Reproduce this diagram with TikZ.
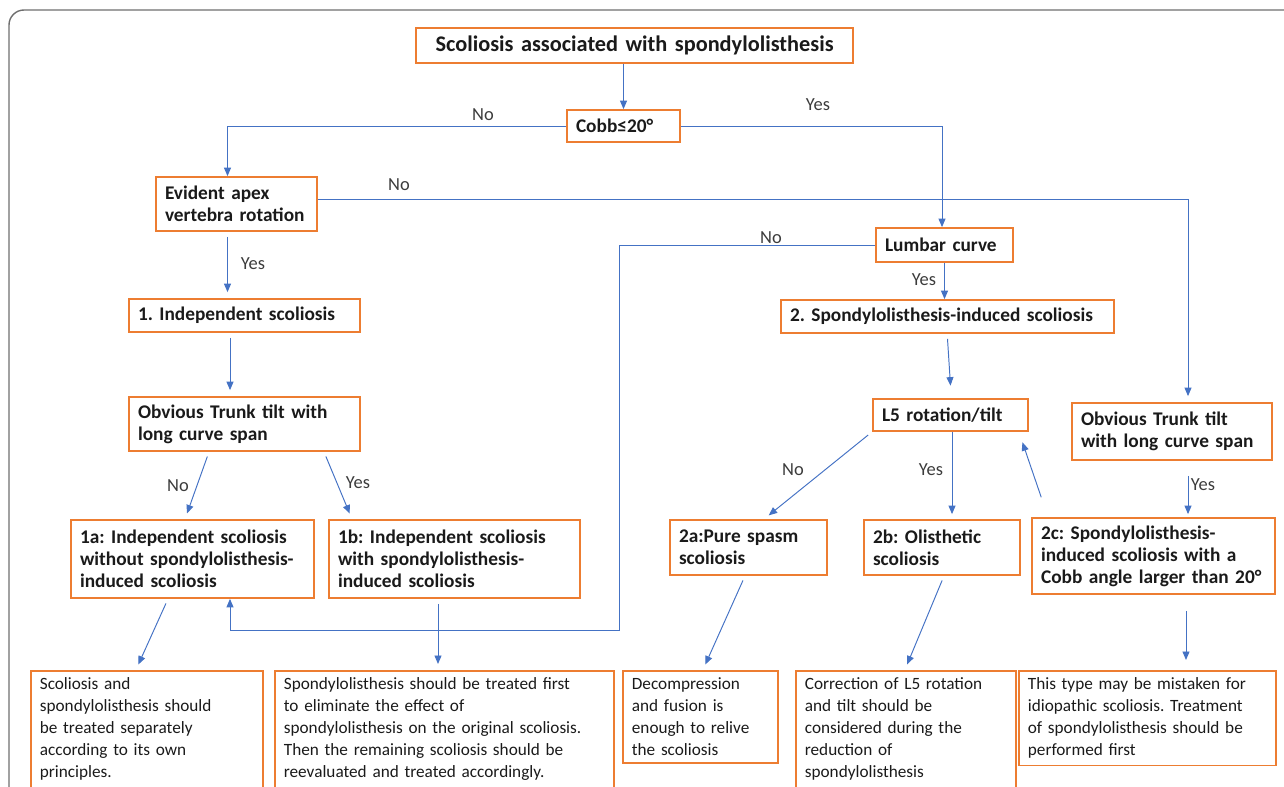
\documentclass[tikz,border=0pt]{standalone}
\usepackage{fontspec}
\setmainfont{Carlito}
\frenchspacing
\usetikzlibrary{arrows.meta, calc, positioning}
\definecolor{boxorange}{HTML}{ED7D31}
\definecolor{linkblue}{HTML}{4472C4}
\definecolor{framegray}{HTML}{6E6E6E}
\definecolor{textdark}{HTML}{1A1A1A}
\tikzset{
  box/.style={draw=boxorange, line width=1pt, text=textdark, align=left,
    inner xsep=0.18cm, inner ysep=0.1cm,
    font=\bfseries\fontsize{11}{12.5}\selectfont},
  note/.style={box, anchor=north west, inner ysep=0.14cm,
    font=\fontsize{9.8}{12.5}\selectfont},
  lbl/.style={text=textdark!85, inner sep=1pt,
    font=\fontsize{10.5}{12}\selectfont},
  link/.style={draw=linkblue, line width=0.55pt,
    -{Triangle[length=0.17cm, width=0.14cm]}},
  gapped/.style={shorten <=0.1cm, shorten >=0.12cm},
}
\begin{document}
\begin{tikzpicture}[x=0.02cm, y=-0.02cm]
  \useasboundingbox (0,0) rectangle (1284,787);
  \clip (0,0) rectangle (1284,787);
  \draw[framegray, line width=0.8pt, rounded corners=0.3cm]
    (9,820) -- (9,10) -- (1320,10);

  % boxes
  \node[box, text width=8.38cm, align=center, minimum height=0.7cm,
    font=\bfseries\fontsize{12.7}{14}\selectfont] (top) at (634.5,45.5)
    {Scoliosis associated with spondylolisthesis};
  \node[box, text width=1.9cm, minimum height=0.64cm] (cobb) at (623.5,126) {Cobb≤20°};
  \node[box, text width=2.86cm, minimum height=1.08cm] (evident) at (236.5,204)
    {Evident apex\\vertebra rotation};
  \node[box, text width=2.38cm, minimum height=0.68cm] (lumbar) at (944.5,245) {Lumbar curve};
  \node[box, text width=4.26cm, minimum height=0.66cm] (ind1) at (244.5,315.5)
    {1. Independent scoliosis};
  \node[box, text width=6.3cm, minimum height=0.66cm] (spon2) at (947.5,316.5)
    {2. Spondylolisthesis-induced scoliosis};
  \node[box, text width=4.26cm, minimum height=1.08cm] (obvL) at (244.5,424)
    {Obvious Trunk tilt with\\long curve span};
  \node[box, text width=2.74cm, minimum height=0.64cm] (l5) at (950.5,415) {L5 rotation/tilt};
  \node[box, text width=3.64cm, minimum height=1.14cm] (obvR) at (1172,431.5)
    {Obvious Trunk tilt\\with long curve span};
  \node[box, text width=4.5cm, minimum height=1.56cm] (n1a) at (192.5,559)
    {1a: Independent scoliosis\\without spondylolisthesis-\\induced scoliosis};
  \node[box, text width=4.66cm, minimum height=1.56cm] (n1b) at (454.5,559)
    {1b: Independent scoliosis\\with spondylolisthesis-\\induced scoliosis};
  \node[box, text width=2.78cm, minimum height=1.1cm] (n2a) at (748.5,547.5)
    {2a:Pure spasm\\scoliosis};
  \node[box, text width=2.76cm, minimum height=1.1cm] (n2b) at (942,547.5)
    {2b: Olisthetic\\scoliosis};
  \node[box, text width=4.5cm, minimum height=1.52cm] (n2c) at (1153.5,556)
    {2c: Spondylolisthesis-\\induced scoliosis with a\\Cobb angle larger than 20°};

  % treatment notes
  \node[note, text width=4.28cm] (b1) at (30,670)
    {Scoliosis and\\spondylolisthesis should\\be treated separately\\according to its own\\principles.};
  \node[note, text width=6.42cm] (b2) at (274,670)
    {Spondylolisthesis should be treated first\\to eliminate the effect of\\spondylolisthesis on the original scoliosis.\\Then the remaining scoliosis should be\\reevaluated and treated accordingly.};
  \node[note, text width=2.74cm] (b3) at (622,670)
    {Decompression\\and fusion is\\enough to relive\\the scoliosis};
  \node[note, text width=4.04cm] (b4) at (795,670)
    {Correction of L5 rotation\\and tilt should be\\considered during the\\reduction of\\spondylolisthesis};
  \node[note, text width=4.78cm] (b5) at (1018,670)
    {This type may be mistaken for\\idiopathic scoliosis. Treatment\\of spondylolisthesis should be\\performed first};

  % connectors
  \coordinate (loopturn) at (619,630);
  \draw[link] (top.south -| cobb.north) -- (cobb.north);
  \draw[link] (cobb.west) -| ([xshift=-0.18cm]evident.north);
  \draw[link] (cobb.east) -| ([xshift=-0.05cm]lumbar.north);
  \draw[link, shorten >=0.12cm] ([yshift=0.1cm]evident.east) -| ([xshift=0.32cm]obvR.north);
  \draw[link, gapped] ([xshift=-0.18cm]evident.south) -- ([xshift=-0.18cm]evident.south |- ind1.north);
  \draw[link] (lumbar.west) -| (loopturn) -| ([xshift=0.75cm]n1a.south);
  \draw[link] (lumbar.south) -- (lumbar.south |- spon2.north);
  \draw[link, gapped] ([xshift=-0.29cm]ind1.south) -- ([xshift=-0.29cm]ind1.south |- obvL.north);
  \draw[link] ([yshift=-0.1cm]spon2.south) -- ([yshift=0.25cm]l5.north);
  \draw[link, gapped] ([xshift=-0.71cm]obvL.south) -- ([xshift=-0.15cm]n1a.north);
  \draw[link, gapped] ([xshift=1.59cm]obvL.south) -- ([xshift=-2.05cm]n1b.north);
  \draw[link, gapped] ([xshift=-1.57cm]l5.south) -- ([xshift=0.31cm]n2a.north);
  \draw[link, shorten >=0.1cm] ([xshift=0.03cm]l5.south) -- ([xshift=0.03cm]l5.south |- n2b.north);
  \draw[link, shorten <=0.42cm, shorten >=0.22cm] ([xshift=-2.11cm]n2c.north) -- ([xshift=-0.2cm]l5.south east);
  \draw[link, shorten <=0.3cm, shorten >=0.06cm] ([xshift=0.32cm]obvR.south) -- ([xshift=0.32cm]obvR.south |- n2c.north);
  \draw[link, gapped] ([xshift=-0.49cm]n1a.south) -- ([xshift=-0.22cm]b1.north);
  \draw[link, gapped] ([xshift=-0.33cm]n1b.south) -- ([xshift=-0.33cm]n1b.south |- b2.north);
  \draw[link, gapped] ([xshift=-0.07cm]n2a.south) -- ([xshift=0.05cm]b3.north);
  \draw[link, gapped] ([xshift=0.04cm]n2b.south) -- ([xshift=-0.02cm]b4.north);
  \draw[link, shorten <=0.32cm, shorten >=0.2cm] ([xshift=0.65cm]n2c.south) -- ([xshift=0.65cm]n2c.south |- b5.north);

  % branch labels
  \node[lbl] (cobbno) at (483,115) {No};
  \node[lbl] (cobbyes) at (818,105) {Yes};
  \node[lbl] (evno) at (399,185) {No};
  \node[lbl] (evyes) at (253,264) {Yes};
  \node[lbl] (lumbarno) at (771,238) {No};
  \node[lbl] (lumbaryes) at (924,280) {Yes};
  \node[lbl] (tiltno) at (178,486) {No};
  \node[lbl] (tiltyes) at (358,483) {Yes};
  \node[lbl] (l5no) at (793,470) {No};
  \node[lbl] (l5yes) at (931,470) {Yes};
  \node[lbl] (tiltRyes) at (1203,485) {Yes};
\end{tikzpicture}
\end{document}
